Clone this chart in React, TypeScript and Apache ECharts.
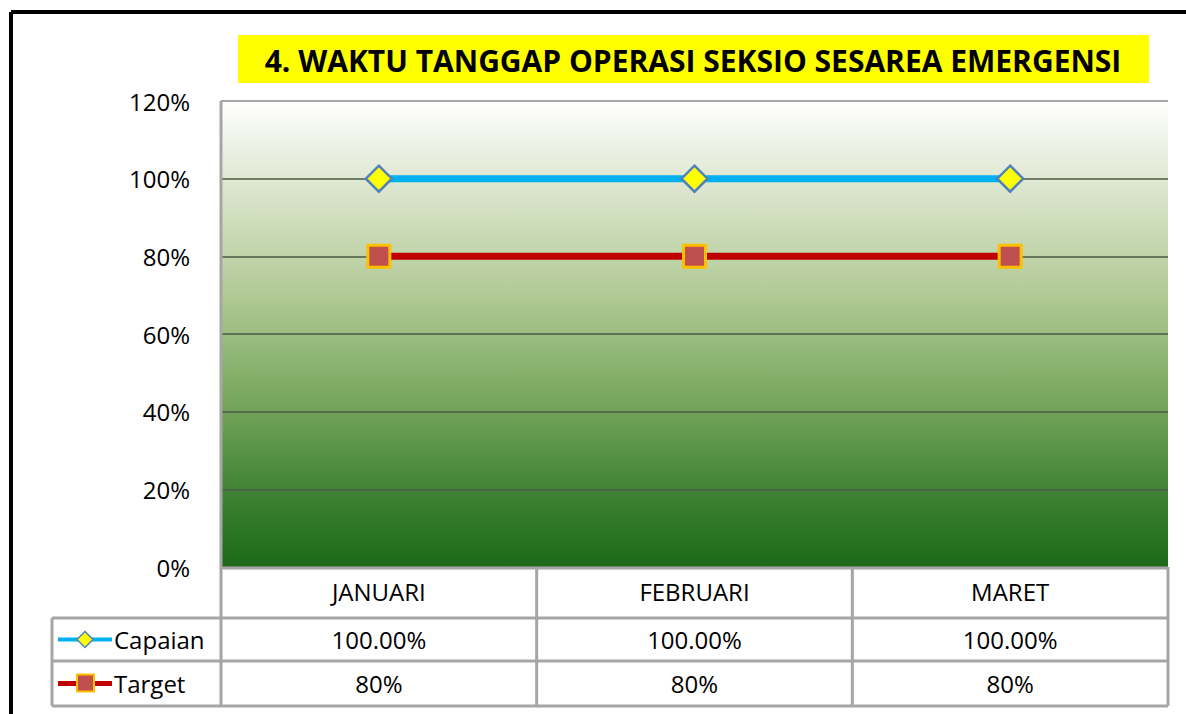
import React, { useEffect, useRef } from "react";
import * as echarts from "echarts";

const categories = ["JANUARI", "FEBRUARI", "MARET"];
const capaian = [1.0, 1.0, 1.0];
const target = [0.8, 0.8, 0.8];
const capaianLabels = ["100.00%", "100.00%", "100.00%"];
const targetLabels = ["80%", "80%", "80%"];
const seriesNames = ["Capaian", "Target"];
const titleText = "4. WAKTU TANGGAP OPERASI SEKSIO SESAREA EMERGENSI";

const FONT = "'Open Sans', 'Noto Sans', sans-serif";

export default function App() {
  const ref = useRef<HTMLDivElement>(null);
  useEffect(() => {
    if (!ref.current) return;
    const chart = echarts.init(ref.current, undefined, { renderer: "svg" });
    const gL = 221, gT = 101, gW = 947, gH = 466;
    const gB = gT + gH;
    const colW = gW / categories.length;
    const row1 = 618, row2 = 661, row3 = 706;
    const tableLeft = 52;
    const gray = "#a6a6a6";
    const graphic: any[] = [];
    // outer frame
    graphic.push({ type: "line", shape: { x1: 11, y1: 12, x2: 1186, y2: 12 }, style: { stroke: "#000", lineWidth: 4 }, z: 10 });
    graphic.push({ type: "line", shape: { x1: 11, y1: 12, x2: 11, y2: 714 }, style: { stroke: "#000", lineWidth: 4 }, z: 10 });
    // title
    graphic.push({ type: "rect", shape: { x: 238, y: 35, width: 911, height: 48 }, style: { fill: "#ffff00" }, z: 5 });
    graphic.push({
      type: "text", x: 693, y: 60, z: 6,
      style: { text: titleText, fill: "#000", font: `bold 30px ${FONT}`, align: "center", verticalAlign: "middle" },
    });
    // plot top border and left border
    graphic.push({ type: "line", shape: { x1: gL, y1: gT, x2: gL + gW, y2: gT }, style: { stroke: gray, lineWidth: 2 }, z: 5 });
    graphic.push({ type: "line", shape: { x1: gL, y1: gT, x2: gL, y2: row3 }, style: { stroke: gray, lineWidth: 3 }, z: 5 });
    // table horizontals
    graphic.push({ type: "line", shape: { x1: gL, y1: gB + 1, x2: gL + gW, y2: gB + 1 }, style: { stroke: gray, lineWidth: 3 }, z: 5 });
    [row1, row2, row3].forEach((y) => {
      graphic.push({ type: "line", shape: { x1: tableLeft, y1: y, x2: gL + gW, y2: y }, style: { stroke: gray, lineWidth: 3 }, z: 5 });
    });
    // table verticals
    graphic.push({ type: "line", shape: { x1: tableLeft, y1: row1, x2: tableLeft, y2: row3 }, style: { stroke: gray, lineWidth: 3 }, z: 5 });
    for (let i = 1; i <= categories.length; i++) {
      const x = gL + colW * i;
      graphic.push({ type: "line", shape: { x1: x, y1: gB, x2: x, y2: row3 }, style: { stroke: gray, lineWidth: 3 }, z: 5 });
    }
    // table values
    const rowVals = [capaianLabels, targetLabels];
    const rowCenters = [(row1 + row2) / 2, (row2 + row3) / 2];
    rowVals.forEach((vals, r) => {
      vals.forEach((v, i) => {
        graphic.push({
          type: "text", x: gL + colW * (i + 0.5), y: rowCenters[r], z: 6,
          style: { text: v, fill: "#000", font: `24px ${FONT}`, align: "center", verticalAlign: "middle" },
        });
      });
    });
    // legend keys
    const ly1 = rowCenters[0], ly2 = rowCenters[1];
    graphic.push({ type: "line", shape: { x1: 58, y1: ly1, x2: 112, y2: ly1 }, style: { stroke: "#00b0f0", lineWidth: 4 }, z: 6 });
    graphic.push({
      type: "polygon", z: 7,
      shape: { points: [[85, ly1 - 8], [93, ly1], [85, ly1 + 8], [77, ly1]] },
      style: { fill: "#ffff00", stroke: "#4f81bd", lineWidth: 1.5 },
    });
    graphic.push({ type: "line", shape: { x1: 58, y1: ly2, x2: 112, y2: ly2 }, style: { stroke: "#c00000", lineWidth: 5 }, z: 6 });
    graphic.push({
      type: "rect", z: 7, shape: { x: 77, y: ly2 - 9, width: 17, height: 17 },
      style: { fill: "#c0504d", stroke: "#ffc000", lineWidth: 2 },
    });
    graphic.push({ type: "text", x: 114, y: ly1, z: 6, style: { text: seriesNames[0], fill: "#000", font: `24px ${FONT}`, verticalAlign: "middle" } });
    graphic.push({ type: "text", x: 114, y: ly2, z: 6, style: { text: seriesNames[1], fill: "#000", font: `24px ${FONT}`, verticalAlign: "middle" } });

    chart.setOption({
      animation: false,
      backgroundColor: "#ffffff",
      grid: {
        left: gL, top: gT, width: gW, height: gH, show: true, borderWidth: 0,
        backgroundColor: {
          type: "linear", x: 0, y: 0, x2: 0, y2: 1,
          colorStops: [
            { offset: 0, color: "#ffffff" },
            { offset: 0.17, color: "#dfe8d2" },
            { offset: 0.42, color: "#b0c994" },
            { offset: 0.66, color: "#72a45a" },
            { offset: 0.84, color: "#3f8236" },
            { offset: 1, color: "#1b6a19" },
          ],
        },
      },
      xAxis: {
        type: "category", data: categories, boundaryGap: true,
        axisLine: { show: false }, axisTick: { show: false },
        axisLabel: { color: "#000", fontSize: 24, fontFamily: FONT, margin: 12 },
      },
      yAxis: {
        type: "value", min: 0, max: 1.2, interval: 0.2,
        axisLine: { show: false }, axisTick: { show: false },
        axisLabel: {
          color: "#000", fontSize: 24, fontFamily: FONT, margin: 31,
          formatter: (v: number) => `${Math.round(v * 100)}%`,
        },
        splitLine: { show: true, lineStyle: { color: "#4a5a44", width: 1.5 } },
      },
      series: [
        {
          name: seriesNames[0], type: "line", data: capaian, symbol: "diamond", symbolSize: 26,
          lineStyle: { color: "#00b0f0", width: 7 },
          itemStyle: { color: "#ffff00", borderColor: "#4f81bd", borderWidth: 2.5 },
          z: 4,
        },
        {
          name: seriesNames[1], type: "line", data: target, symbol: "rect", symbolSize: 22,
          lineStyle: { color: "#c00000", width: 7 },
          itemStyle: { color: "#c0504d", borderColor: "#ffc000", borderWidth: 3 },
          z: 4,
        },
      ],
      graphic,
    });
    return () => chart.dispose();
  }, []);
  return <div ref={ref} style={{ position: "fixed", left: 0, top: 0, width: 1186, height: 714 }} />;
}
